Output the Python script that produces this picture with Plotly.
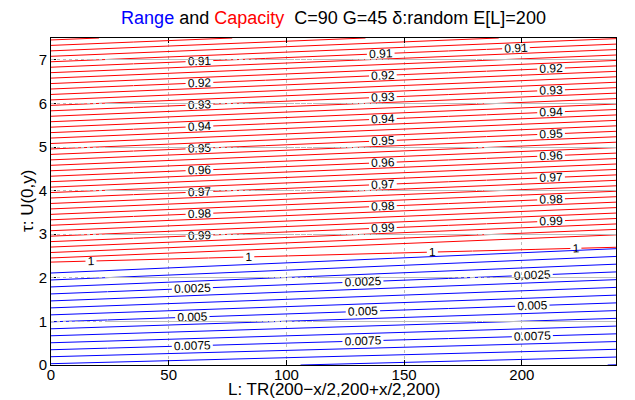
import plotly.graph_objects as go

# ---- data ----
x_grid = [0, 240]                     # L
tau_grid = [0, 7.5]                   # tau
# Capacity surface (values at grid corners; rows = tau, cols = L)
capacity_z = [[1.0466, 1.0572],
              [0.8966, 0.9072]]
# Capacity saturation boundary (the "1" contour)
boundary_z = [[1.0472, 1.0540],
              [0.8972, 0.9040]]
# Range surface
range_z = [[0.008867, 0.010017],
           [-0.020428, -0.016391]]

capacity_step = 0.01
capacity_minor_starts = [0.8925, 0.895, 0.8975]
capacity_labeled_levels = [0.90, 0.91, 0.92, 0.93, 0.94, 0.95, 0.96, 0.97, 0.98, 0.99]
capacity_end = 0.9975
range_step = 0.0025
range_minor_starts = [0.000625, 0.00125, 0.001875]
range_labeled_levels = [0.0025, 0.005, 0.0075, 0.01]
range_end = 0.01
boundary_levels = [1.0]

FONT = "Liberation Sans, Arial, Helvetica, sans-serif"
RED = "#ff0000"
BLUE = "#0000ff"
X_MAX = 240

# page body adds an 8px offset; the figure is sized to fill the 635x400 window
W, H = 627, 392
ML, MR, MT, MB = 43, 19, 30, 35
PW, PH = W - ML - MR, H - MT - MB

# L-axis pieces used to place contour labels in columns (style only)
layout_sets = [
    (capacity_z, capacity_labeled_levels, capacity_step, RED,
     [0, 35, 91, 113, 169, 185, 240], {(35, 91), (113, 169), (185, 240)}),
    (range_z, range_labeled_levels, range_step, BLUE,
     [0, 24, 96, 169, 240], {(24, 96), (96, 169), (169, 240)}),
    (boundary_z, boundary_levels, 0.01, RED,
     [0, 34, 67, 101, 145, 179, 206, 240], {(0, 34), (67, 101), (145, 179), (206, 240)}),
]

fig = go.Figure()


def add_contour(z, start, end, size, color, labels, xaxis="x"):
    fig.add_trace(go.Contour(
        x=x_grid, y=tau_grid, z=z,
        autocontour=False,
        contours=dict(start=start, end=end, size=size, coloring="none",
                      showlabels=labels, labelformat=".4~g",
                      labelfont=dict(family=FONT, size=12, color="black")),
        line=dict(color=color, width=1, smoothing=0),
        showscale=False, hoverinfo="skip", xaxis=xaxis, yaxis="y",
    ))


# unlabeled levels, full width on the main axes
for s in capacity_minor_starts:
    add_contour(capacity_z, s, capacity_end, capacity_step, RED, False)
for s in range_minor_starts:
    add_contour(range_z, s, range_end, range_step, BLUE, False)

# labeled levels, drawn piece by piece so that labels sit in columns
extra_axes = {}
n_axis = 1
for z, levels, step, color, pieces, windows in layout_sets:
    for a, b in zip(pieces[:-1], pieces[1:]):
        n_axis += 1
        name = f"x{n_axis}"
        extra_axes[f"xaxis{n_axis}"] = dict(domain=[a / X_MAX, b / X_MAX], range=[a, b],
                                            anchor="y", visible=False, fixedrange=True)
        if (a, b) in windows:
            for lev in levels:
                add_contour(z, lev, lev, step, color, True, name)
        else:
            add_contour(z, levels[0], levels[-1], step, color, False, name)

axis_common = dict(
    showline=True, linecolor="black", linewidth=1, mirror="ticks",
    ticks="inside", ticklen=5, tickcolor="black",
    showgrid=True, gridcolor="#bdbdbd", griddash="dot", gridwidth=1,
    zeroline=False, tickfont=dict(family=FONT, size=15, color="black"),
    automargin=False,
)

fig.update_layout(
    width=W, height=H,
    margin=dict(l=ML, r=MR, t=MT, b=MB, autoexpand=False),
    paper_bgcolor="white", plot_bgcolor="rgba(0,0,0,0)",
    showlegend=False,
    title=dict(
        text=('<span style="color:#0000ff">Range</span> and '
              '<span style="color:#ff0000">Capacity</span>\u00a0\u00a0'
              'C=90 G=45 δ:random E[L]=200'),
        font=dict(family=FONT, size=18, color="black"),
        x=0.5, xref="paper", xanchor="center",
        y=1 - 10 / H, yref="container", yanchor="middle",
    ),
    xaxis=dict(range=[0, X_MAX], tickvals=[0, 50, 100, 150, 200], domain=[0, 1],
               anchor="y", ticklabelstandoff=-4, **axis_common),
    yaxis=dict(range=[0, 7.5], tickvals=[0, 1, 2, 3, 4, 5, 6, 7], anchor="x",
               **axis_common),
    annotations=[
        dict(text="L: TR(200\u2212x/2,200+x/2,200)", xref="paper", yref="paper",
             x=0.5, y=-25 / PH, xanchor="center", yanchor="middle",
             showarrow=False, font=dict(family=FONT, size=17, color="black")),
        dict(text="τ: U(0,y)", xref="paper", yref="paper",
             x=-(ML - 19.5) / PW, y=0.5, xanchor="center", yanchor="middle",
             textangle=-90, showarrow=False,
             font=dict(family=FONT, size=17, color="black")),
    ],
    **extra_axes,
)

fig.write_html("out.html")
